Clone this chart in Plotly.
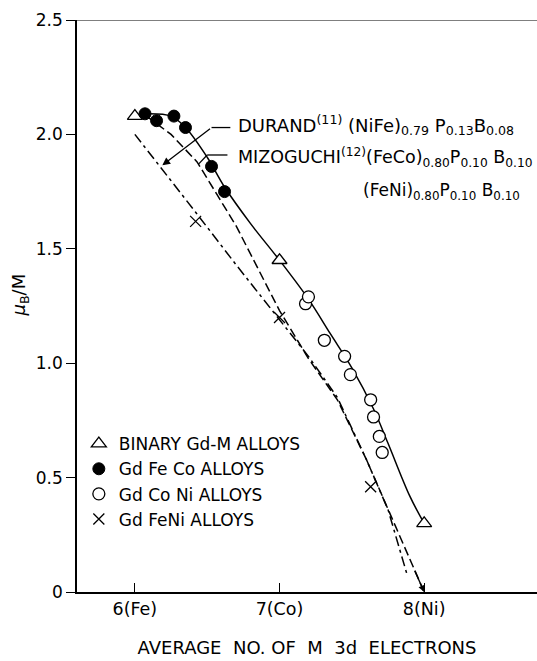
import plotly.graph_objects as go

# ---- data ----
binary_x = [6.0, 7.0, 8.0]
binary_y = [2.08, 1.45, 0.30]

feco_x = [6.07, 6.15, 6.27, 6.35, 6.53, 6.62]
feco_y = [2.09, 2.06, 2.08, 2.03, 1.86, 1.75]

coni_x = [7.18, 7.20, 7.31, 7.45, 7.49, 7.63, 7.65, 7.69, 7.71]
coni_y = [1.26, 1.29, 1.10, 1.03, 0.95, 0.84, 0.765, 0.68, 0.61]

feni_x = [6.42, 7.0, 7.63]
feni_y = [1.62, 1.20, 0.46]

fit_x = [6.05, 6.25, 6.35, 6.5, 6.62, 6.8, 7.0, 7.2, 7.35, 7.5, 7.65, 7.75, 7.9, 8.0]
fit_y = [2.09, 2.08, 2.03, 1.90, 1.77, 1.61, 1.45, 1.28, 1.13, 0.98, 0.80, 0.65, 0.42, 0.30]

mizo_x = [6.08, 6.25, 6.43, 6.7, 7.0, 7.2, 7.4, 7.6, 7.8, 8.0]
mizo_y = [2.08, 2.00, 1.88, 1.60, 1.23, 1.02, 0.84, 0.58, 0.29, 0.0]

durand_x = [6.0, 6.2, 6.42, 6.7, 7.0, 7.2, 7.4, 7.6, 7.75, 7.88]
durand_y = [2.0, 1.84, 1.66, 1.43, 1.19, 1.03, 0.85, 0.58, 0.36, 0.08]

x_ticks = [6, 7, 8]
x_tick_labels = ["6(Fe)", "7(Co)", "8(Ni)"]
y_ticks = [0, 0.5, 1.0, 1.5, 2.0, 2.5]
y_tick_labels = ["0", "0.5", "1.0", "1.5", "2.0", "2.5"]

FONT = "DejaVu Sans"
fig = go.Figure()

fig.add_trace(go.Scatter(x=durand_x, y=durand_y, mode="lines", showlegend=False,
                         line=dict(color="black", width=1.5, dash="10px,4px,3px,4px")))
fig.add_trace(go.Scatter(x=mizo_x, y=mizo_y, mode="lines", showlegend=False,
                         line=dict(color="black", width=1.5, dash="9px,4px")))
fig.add_trace(go.Scatter(x=fit_x, y=fit_y, mode="lines", showlegend=False, line_shape="spline",
                         line=dict(color="black", width=1.5)))

fig.add_trace(go.Scatter(x=binary_x, y=binary_y, mode="markers", name="BINARY Gd-M ALLOYS",
                         legendgroup="a",
                         marker=dict(symbol="triangle-up", size=13, color="white",
                                     line=dict(color="black", width=1.3))))
fig.add_trace(go.Scatter(x=feco_x, y=feco_y, mode="markers", name="Gd Fe Co ALLOYS",
                         legendgroup="b",
                         marker=dict(symbol="circle", size=12, color="black",
                                     line=dict(color="black", width=1))))
fig.add_trace(go.Scatter(x=coni_x, y=coni_y, mode="markers", name="Gd Co Ni ALLOYS",
                         legendgroup="c",
                         marker=dict(symbol="circle", size=12, color="white",
                                     line=dict(color="black", width=1.3))))
fig.add_trace(go.Scatter(x=feni_x, y=feni_y, mode="markers", name="Gd FeNi ALLOYS",
                         legendgroup="d",
                         marker=dict(symbol="x-thin", size=11,
                                     line=dict(color="black", width=1.3))))

# annotation leaders
fig.add_shape(type="line", x0=6.53, x1=6.66, y0=2.03, y1=2.03, line=dict(color="black", width=1.3))
fig.add_annotation(x=6.19, y=1.865, ax=6.53, ay=2.03, axref="x", ayref="y", text="",
                   showarrow=True, arrowhead=2, arrowsize=1.2, arrowwidth=1.3, arrowcolor="black")
fig.add_shape(type="line", x0=6.50, x1=6.64, y0=1.91, y1=1.91, line=dict(color="black", width=1.3))
fig.add_shape(type="line", x0=6.50, x1=6.44, y0=1.91, y1=1.87, line=dict(color="black", width=1.3))
# arrow at Ni end of Mizoguchi line
fig.add_annotation(x=8.0, y=0.0, ax=7.93, ay=0.1, axref="x", ayref="y", text="",
                   showarrow=True, arrowhead=2, arrowsize=1, arrowwidth=1.3, arrowcolor="black")

fig.add_annotation(x=6.7, y=2.04, xref="x", yref="y", xanchor="left", yanchor="middle", showarrow=False,
                   text="DURAND<sup>(11)</sup> (NiFe)<sub>0.79</sub> P<sub>0.13</sub>B<sub>0.08</sub>",
                   font=dict(family=FONT, size=18, color="black"))
fig.add_annotation(x=6.7, y=1.90, xref="x", yref="y", xanchor="left", yanchor="middle", showarrow=False,
                   text="MIZOGUCHI<sup>(12)</sup>(FeCo)<sub>0.80</sub>P<sub>0.10</sub> B<sub>0.10</sub>",
                   font=dict(family=FONT, size=17.5, color="black"))
fig.add_annotation(x=7.56, y=1.75, xref="x", yref="y", xanchor="left", yanchor="middle", showarrow=False,
                   text="(FeNi)<sub>0.80</sub>P<sub>0.10</sub> B<sub>0.10</sub>",
                   font=dict(family=FONT, size=17, color="black"))

# y axis title as rotated text
fig.add_annotation(x=-0.124, y=0.52, xref="paper", yref="paper", xanchor="center", yanchor="middle",
                   showarrow=False, textangle=-90,
                   text="<i>μ</i><sub>B</sub>/M", font=dict(family=FONT, size=18, color="black"))

# top frame line
fig.add_shape(type="line", xref="paper", x0=0, x1=1, yref="y", y0=2.5, y1=2.5,
              line=dict(color="black", width=1))

fig.update_layout(
    width=537, height=661,
    margin=dict(l=77, r=0, t=20, b=69),
    paper_bgcolor="white", plot_bgcolor="white",
    font=dict(family=FONT, size=16, color="black"),
    showlegend=True,
    legend=dict(x=0.004, y=0.29, xanchor="left", yanchor="top", bgcolor="rgba(0,0,0,0)",
                font=dict(family=FONT, size=17, color="black"), tracegroupgap=0,
                itemwidth=30),
    xaxis=dict(range=[5.6, 8.78], tickvals=x_ticks, ticktext=x_tick_labels,
               showgrid=False, zeroline=False, showline=True, linecolor="black", linewidth=1.5,
               ticks="inside", ticklen=9, tickcolor="black", tickwidth=1.2,
               tickfont=dict(family=FONT, size=17.5, color="black"),
               title=dict(text="AVERAGE  NO. OF  M  3d  ELECTRONS", standoff=24,
                          font=dict(family=FONT, size=18, color="black"))),
    yaxis=dict(range=[0, 2.5], tickvals=y_ticks, ticktext=y_tick_labels,
               showgrid=False, zeroline=False, showline=True, linecolor="black", linewidth=1.5,
               ticks="outside", ticklen=9, tickcolor="black", tickwidth=1.2,
               tickfont=dict(family=FONT, size=17, color="black")),
)

fig.write_html("out.html")
